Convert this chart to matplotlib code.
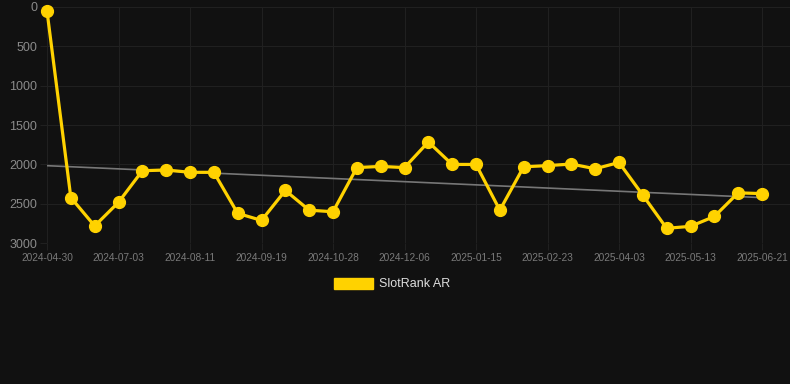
import matplotlib.pyplot as plt
import numpy as np
from matplotlib.patches import Patch

dates = ['2024-04-30', '2024-06-07', '2024-06-20', '2024-07-03', '2024-07-16', '2024-07-29',
         '2024-08-11', '2024-08-24', '2024-09-06', '2024-09-19', '2024-10-02', '2024-10-15',
         '2024-10-28', '2024-11-10', '2024-11-23', '2024-12-06', '2024-12-19', '2025-01-01',
         '2025-01-15', '2025-01-28', '2025-02-10', '2025-02-23', '2025-03-08', '2025-03-21',
         '2025-04-03', '2025-04-16', '2025-04-29', '2025-05-13', '2025-05-26', '2025-06-08',
         '2025-06-21']
rank = [55, 2420, 2780, 2480, 2080, 2070, 2100, 2100, 2620, 2710, 2330, 2580,
        2600, 2040, 2025, 2040, 1715, 2000, 2000, 2580, 2030, 2015, 1995, 2055,
        1975, 2390, 2810, 2785, 2660, 2360, 2370]

bg = '#111111'
gold = '#FFD200'
grid = '#202020'

plt.rcParams['font.family'] = ['Liberation Sans', 'DejaVu Sans']

W, H = 790, 384
fig = plt.figure(figsize=(W/100, H/100), dpi=100, facecolor=bg)
# axes placed in pixel terms: first point at x=47, last at x=762
x0, x1 = 47, 762
ax = fig.add_axes([x0/W, 1-243.3/H, (W-x0)/W, (243.3-6.7)/H])
ax.set_facecolor(bg)

x = np.arange(len(rank))
step = (x1-x0)/(len(rank)-1)
ax.set_xlim(0, (W-x0)/step)
ax.set_ylim(3000, 0)

# trend line (least squares on the series)
k, b = np.polyfit(x, rank, 1)
ax.plot(x, k*x+b, color='#777777', lw=1.2, zorder=2)

ax.plot(x, rank, color=gold, lw=2.3, marker='o', ms=8.5, zorder=3, clip_on=False)

ax.set_yticks([0, 500, 1000, 1500, 2000, 2500, 3000])
ax.set_xticks(x[::3])
ax.set_xticklabels(dates[::3])
ax.grid(True, color=grid, lw=0.8)
ax.set_axisbelow(True)
for s in ax.spines.values():
    s.set_visible(False)
ax.tick_params(axis='y', colors=grid, length=5, width=0.8, pad=2, labelsize=9, labelcolor='#8a8a8a')
ax.tick_params(axis='x', colors=grid, length=5, width=0.8, pad=2, labelsize=7.3, labelcolor='#7a7a7a')

fig.legend(handles=[Patch(facecolor=gold, edgecolor=gold, label='SlotRank AR')],
           loc='center', bbox_to_anchor=(392/W, 1-284/H), frameon=False,
           handlelength=3.1, handleheight=1.0, handletextpad=0.5, fontsize=9,
           labelcolor='#dddddd')

fig.savefig('out.png', dpi=100, facecolor=bg)
